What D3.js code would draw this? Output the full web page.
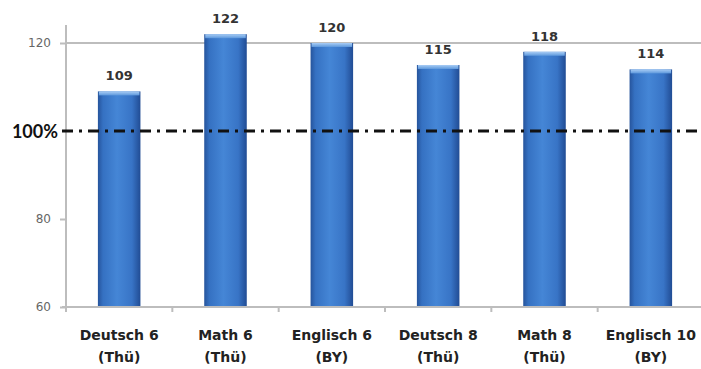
<!DOCTYPE html>
<html>
<head>
<meta charset="utf-8">
<script src="https://cdn.jsdelivr.net/npm/d3@7"></script>
<style>
  html, body { margin: 0; padding: 0; background: #fff; }
  svg { display: block; }
  text { font-family: "DejaVu Sans", "Lato", sans-serif; }
</style>
</head>
<body>
<svg id="chart" width="701" height="369"></svg>
<script>
// Subjects tested (two-line labels) and their index values (100 = baseline)
const categories = ["Deutsch 6|(Thü)", "Math 6|(Thü)", "Englisch 6|(BY)", "Deutsch 8|(Thü)", "Math 8|(Thü)", "Englisch 10|(BY)"];
const values = [109, 122, 120, 115, 118, 114];
const yTicks = [60, 80, 120];
const baseline = 100;
const gridValue = 120;

const svg = d3.select("#chart");
const W = 701, H = 369;
const margin = { left: 66, right: -3, top: 25, bottom: 62 };

const x = d3.scaleBand()
  .domain(categories)
  .range([margin.left, W - margin.right])
  .paddingInner(0.6)
  .paddingOuter(0.3);

const y = d3.scaleLinear()
  .domain([60, 124.09])
  .range([H - margin.bottom, margin.top]);

// Bar gradient: darker edges, lighter body
const defs = svg.append("defs");
const grad = defs.append("linearGradient").attr("id", "barGrad").attr("x1", 0).attr("x2", 1).attr("y1", 0).attr("y2", 0);
[[0, "#26549c"], [0.12, "#3571c2"], [0.45, "#4586d6"], [0.8, "#3874c6"], [1, "#214c94"]]
  .forEach(([o, c]) => grad.append("stop").attr("offset", o).attr("stop-color", c));
const capGrad = defs.append("linearGradient").attr("id", "capGrad").attr("x1", 0).attr("x2", 0).attr("y1", 0).attr("y2", 1);
[[0, "#a9cdf5"], [1, "#5d98dc"]].forEach(([o, c]) => capGrad.append("stop").attr("offset", o).attr("stop-color", c));

// Horizontal reference line at 120
svg.append("line")
  .attr("x1", margin.left).attr("x2", W)
  .attr("y1", y(gridValue)).attr("y2", y(gridValue))
  .attr("stroke", "#bdbdbd").attr("stroke-width", 2);

// Y axis line and ticks
svg.append("line")
  .attr("x1", margin.left).attr("x2", margin.left)
  .attr("y1", margin.top).attr("y2", y(60))
  .attr("stroke", "#bdbdbd").attr("stroke-width", 2);

const yAxis = d3.axisLeft(y).tickValues(yTicks).tickSize(6).tickPadding(9).tickFormat(d3.format("d"));
const yg = svg.append("g").attr("transform", `translate(${margin.left},0)`).call(yAxis);
yg.select(".domain").remove();
yg.selectAll(".tick line").attr("stroke", "#bdbdbd").attr("stroke-width", 2);
yg.selectAll(".tick text").attr("fill", "#666").attr("font-size", 12)
  .style("font-family", "DejaVu Sans, sans-serif");

// Bars
const bars = svg.append("g");
categories.forEach((c, i) => {
  const x0 = x(c), bw = x.bandwidth(), top = y(values[i]);
  bars.append("rect")
    .attr("x", x0).attr("y", top)
    .attr("width", bw).attr("height", y(60) - top)
    .attr("fill", "url(#barGrad)");
  bars.append("rect")
    .attr("x", x0 + 1).attr("y", top)
    .attr("width", bw - 2).attr("height", 4)
    .attr("fill", "url(#capGrad)");
  svg.append("text")
    .attr("x", x0 + bw / 2).attr("y", top - 11)
    .attr("text-anchor", "middle")
    .attr("font-size", 13).attr("font-weight", "bold").attr("fill", "#333")
    .text(values[i]);
});

// X axis line with boundary ticks
svg.append("line")
  .attr("x1", margin.left - 4).attr("x2", W)
  .attr("y1", y(60)).attr("y2", y(60))
  .attr("stroke", "#bdbdbd").attr("stroke-width", 2);
const step = x.step();
categories.forEach(c => {
  const xb = x(c) + x.bandwidth() / 2 - step / 2;
  svg.append("line")
    .attr("x1", xb).attr("x2", xb)
    .attr("y1", y(60)).attr("y2", y(60) + 5)
    .attr("stroke", "#bdbdbd").attr("stroke-width", 2);
});

// Category labels (two lines)
categories.forEach(c => {
  const [l1, l2] = c.split("|");
  const cx = x(c) + x.bandwidth() / 2;
  const t = svg.append("text")
    .attr("text-anchor", "middle")
    .attr("font-size", 14).attr("font-weight", "bold").attr("fill", "#222");
  t.append("tspan").attr("x", cx).attr("y", 340).text(l1);
  t.append("tspan").attr("x", cx).attr("y", 362).text(l2);
});

// 100% baseline, dash-dot
svg.append("line")
  .attr("x1", margin.left - 4).attr("x2", W)
  .attr("y1", y(baseline)).attr("y2", y(baseline))
  .attr("stroke", "#111").attr("stroke-width", 3)
  .attr("stroke-dasharray", "11,6,3,6");
svg.append("text")
  .attr("x", margin.left - 8).attr("y", y(baseline) + 7)
  .attr("text-anchor", "end")
  .attr("font-size", 18).attr("font-weight", "bold").attr("fill", "#111")
  .style("font-family", "Lato, sans-serif")
  .text(baseline + "%");
</script>
</body>
</html>
